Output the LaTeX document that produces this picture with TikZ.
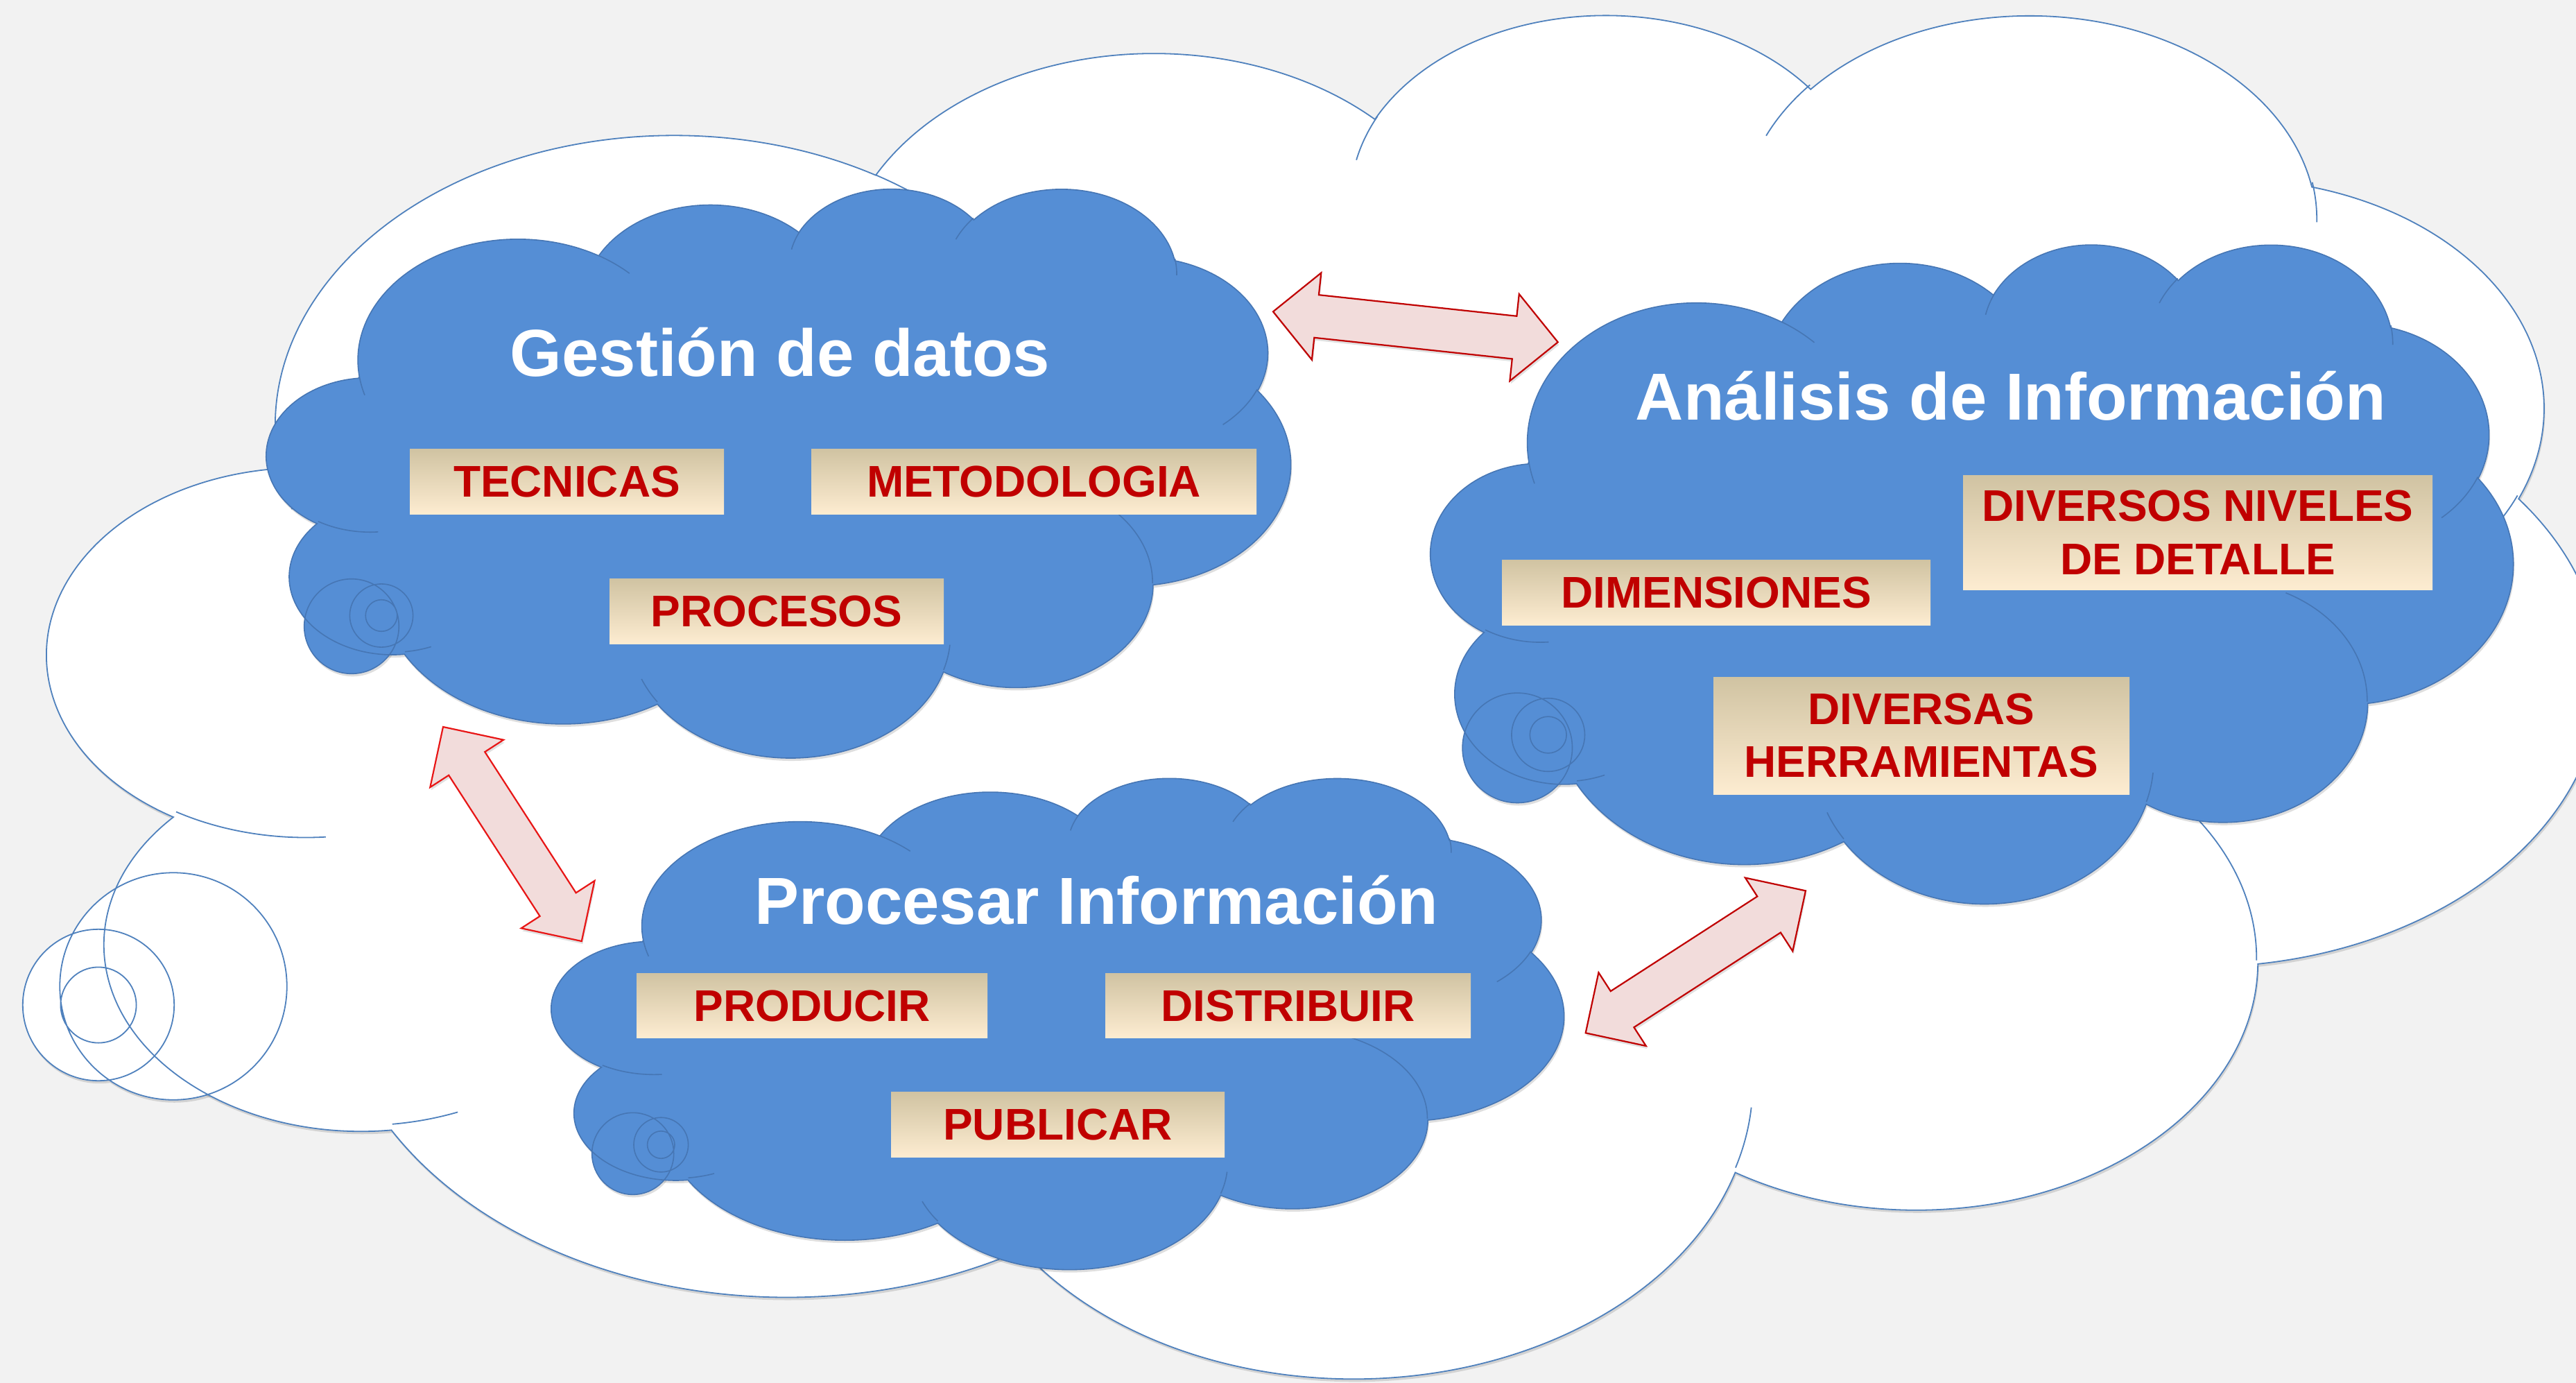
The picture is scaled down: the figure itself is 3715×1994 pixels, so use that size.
\documentclass[tikz,border=0pt]{standalone}
\usepackage{fontspec}
\setmainfont{Liberation Sans}
\usetikzlibrary{calc}

\definecolor{bgc}{HTML}{F2F2F2}
\definecolor{cloudblue}{RGB}{85,142,213}
\definecolor{whiteline}{RGB}{79,129,189}
\definecolor{blueline}{RGB}{70,118,180}
\definecolor{lbltop}{RGB}{208,195,162}
\definecolor{lblmid}{RGB}{243,235,215}
\definecolor{lblbot}{RGB}{253,236,209}
\definecolor{lblred}{RGB}{192,0,0}
\definecolor{arrfill}{RGB}{242,220,219}
\definecolor{arrline}{RGB}{192,0,0}
\definecolor{arrlinetwo}{RGB}{232,22,22}

% arc in the OOXML sense (visual angles, y down), radii in path units
\newcommand\ooarc[4]{%
  \pgfextra{%
    \pgfmathsetmacro\ooP{atan2((#1)*sin(#3),(#2)*cos(#3))}%
    \pgfmathsetmacro\ooQ{atan2((#1)*sin((#3)+(#4)),(#2)*cos((#3)+(#4)))}%
    \pgfmathsetmacro\ooE{(\ooP)+mod((\ooQ)-(\ooP)-(#4)+900,360)-180+(#4)}%
    \global\let\ooP\ooP
    \global\let\ooE\ooE
  }%
  arc[x radius=#1, y radius=#2, start angle=\ooP, end angle=\ooE]%
}

\newcommand\cloudouter{%
  (3.900,14.370)
  \ooarc{6.753}{9.190}{-190.4875}{123.7805}
  \ooarc{5.333}{7.267}{-144.1024}{89.9452}
  \ooarc{4.365}{5.945}{-145.8079}{99.7230}
  \ooarc{4.857}{6.595}{-130.9861}{117.2417}
  \ooarc{5.333}{7.273}{-78.7089}{109.0269}
  \ooarc{6.775}{9.220}{-46.2673}{130.2690}
  \ooarc{5.785}{7.867}{0.6250}{114.0333}
  \ooarc{6.752}{9.215}{22.4516}{115.1726}
  \ooarc{7.720}{10.543}{66.2426}{75.7110}
  \ooarc{4.360}{5.918}{-274.9421}{146.7356}
  \ooarc{4.345}{5.945}{-246.8285}{152.5189}
  -- cycle}

\newcommand\clouddeco{%
  (4.693,26.177) \ooarc{4.345}{5.945}{86.7420}{26.4295}
  (6.928,34.899) \ooarc{4.360}{5.918}{73.6105}{11.4475}
  (16.478,39.090) \ooarc{6.752}{9.215}{137.6242}{14.0811}
  (28.827,34.751) \ooarc{6.752}{9.215}{6.4533}{15.9984}
  (34.129,22.954) \ooarc{5.785}{7.867}{-70.2924}{70.9174}
  (41.798,15.354) \ooarc{5.333}{7.273}{30.3180}{27.7515}
  (38.324,5.426) \ooarc{4.857}{6.595}{-13.7443}{14.8589}
  (29.078,3.952) \ooarc{4.857}{6.595}{-149.1815}{18.1954}
  (22.141,4.720) \ooarc{4.365}{5.945}{-163.4943}{17.6864}
  (14.000,5.192) \ooarc{6.753}{9.190}{-66.7070}{12.3194}
  (4.127,15.789) \ooarc{6.753}{9.190}{157.6544}{11.8582}}

\tikzset{
  cloudbox/.style n args={4}{shift={(#1,#2)}, x={(#3*0.02cm/43.2,0cm)}, y={(0cm,-#4*0.02cm/43.2)}},
  boxsize/.style 2 args={minimum width=#1*0.02cm, minimum height=#2*0.02cm},
  lbl/.style={top color=lbltop, middle color=lblmid, bottom color=lblbot,
    inner sep=0pt, text=lblred,
    font=\fontsize{36.4pt}{43.6pt}\selectfont\bfseries},
  oneline/.style={text height=26.1pt, text depth=0pt},
  twoline/.style={align=center},
  ttl/.style={text=white, font=\fontsize{54.6pt}{62pt}\selectfont\bfseries, inner sep=0pt, anchor=base},
  blockarrow/.style={fill=arrfill, draw=#1, line width=0.044cm, line join=miter},
}

% cloud callout: X0 Y0 W H fill linestyle bubbles
\newcommand\cloudall[7]{%
  \begin{scope}[transform canvas={shift={(1.5,4)}}]
    \fill[black,opacity=.13,cloudbox={#1}{#2}{#3}{#4}] \cloudouter;
    \fill[black,opacity=.13] #7;
  \end{scope}
  \fill[#5,cloudbox={#1}{#2}{#3}{#4}] \cloudouter;
  \fill[#5] #7;
  \draw[#6,cloudbox={#1}{#2}{#3}{#4}] \cloudouter \clouddeco;
  \draw[#6] #7;
}

\newcommand\arrH{1.26cm}
\newcommand\arrW{1.26cm}
\newcommand\arrS{0.62cm}
\newcommand\arrowpath[2]{(#1)
  -- ($(#1)!\arrH!(#2)!\arrW!90:(#2)$)
  -- ($(#1)!\arrH!(#2)!\arrS!90:(#2)$)
  -- ($(#2)!\arrH!(#1)!\arrS!-90:(#1)$)
  -- ($(#2)!\arrH!(#1)!\arrW!-90:(#1)$)
  -- (#2)
  -- ($(#2)!\arrH!(#1)!\arrW!90:(#1)$)
  -- ($(#2)!\arrH!(#1)!\arrS!90:(#1)$)
  -- ($(#1)!\arrH!(#2)!\arrS!-90:(#2)$)
  -- ($(#1)!\arrH!(#2)!\arrW!-90:(#2)$)
  -- cycle}
\newcommand\dblarrow[3]{%
  \begin{scope}[transform canvas={shift={(1.5,4)}}]
    \fill[black,opacity=.12] \arrowpath{#1}{#2};
  \end{scope}
  \draw[blockarrow=#3] \arrowpath{#1}{#2};
}

\begin{document}
\begin{tikzpicture}[x=0.02cm,y=-0.02cm]
\useasboundingbox (0,0) rectangle (3715,1994);
\clip (0,0) rectangle (3715,1994);
\fill[bgc] (0,0) rectangle (3715,1994);

% big white cloud
\cloudall{70}{16}{3680}{1965}{white}{whiteline,line width=0.036cm}
  {(250,1422) circle[radius=163.75] (142,1449) circle[radius=109.2] (142,1449) circle[radius=54.6]}

% blue clouds
\cloudall{385}{270}{1476}{820}{cloudblue}{blueline,line width=0.032cm}
  {(507,903) circle[radius=68.3] (550,887.5) circle[radius=45.6] (550,887.5) circle[radius=22.8]}
\cloudall{2064}{350}{1560}{950}{cloudblue}{blueline,line width=0.032cm}
  {(2188.3,1078.3) circle[radius=79.2] (2232.7,1059.5) circle[radius=52.8] (2232.7,1059.5) circle[radius=26.4]}
\cloudall{796}{1120}{1459}{708}{cloudblue}{blueline,line width=0.032cm}
  {(912.7,1663.3) circle[radius=59] (953.3,1650.5) circle[radius=39.3] (953.3,1650.5) circle[radius=19.7]}

% double block arrows
\coordinate (a1s) at (1836,449.3);
\coordinate (a1e) at (2246.7,493.3);
\coordinate (a2s) at (639,1048);
\coordinate (a2e) at (838.8,1357);
\coordinate (a3s) at (2604,1284.3);
\coordinate (a3e) at (2286.7,1489.3);
\dblarrow{a1s}{a1e}{arrline}
\dblarrow{a2s}{a2e}{arrlinetwo}
\dblarrow{a3s}{a3e}{arrline}

% titles
\node[ttl] (tgest) at (1125,542) {Gestión de datos};
\node[ttl] (tanal) at (2900,605) {Análisis de Información};
\node[ttl] (tproc) at (1581.5,1332) {Procesar Información};

% labels
\node[lbl,oneline,boxsize={453}{94}] (tec) at (817.5,694) {TECNICAS};
\node[lbl,oneline,boxsize={642}{94}] (met) at (1491,694) {METODOLOGIA};
\node[lbl,oneline,boxsize={482}{94}] (pro) at (1120,881) {PROCESOS};
\node[lbl,oneline,boxsize={506}{93}] (prd) at (1171,1449.5) {PRODUCIR};
\node[lbl,oneline,boxsize={527}{93}] (dis) at (1857.5,1449.5) {DISTRIBUIR};
\node[lbl,oneline,boxsize={481}{94}] (pub) at (1525.5,1621) {PUBLICAR};
\node[lbl,oneline,boxsize={618}{94}] (dim) at (2475,854) {DIMENSIONES};
\node[lbl,twoline,boxsize={677}{165}] (niv) at (3169.5,767.5) {DIVERSOS NIVELES\\DE DETALLE};
\node[lbl,twoline,boxsize={600}{169}] (her) at (2771,1060.5) {DIVERSAS\\HERRAMIENTAS};
\end{tikzpicture}
\end{document}
